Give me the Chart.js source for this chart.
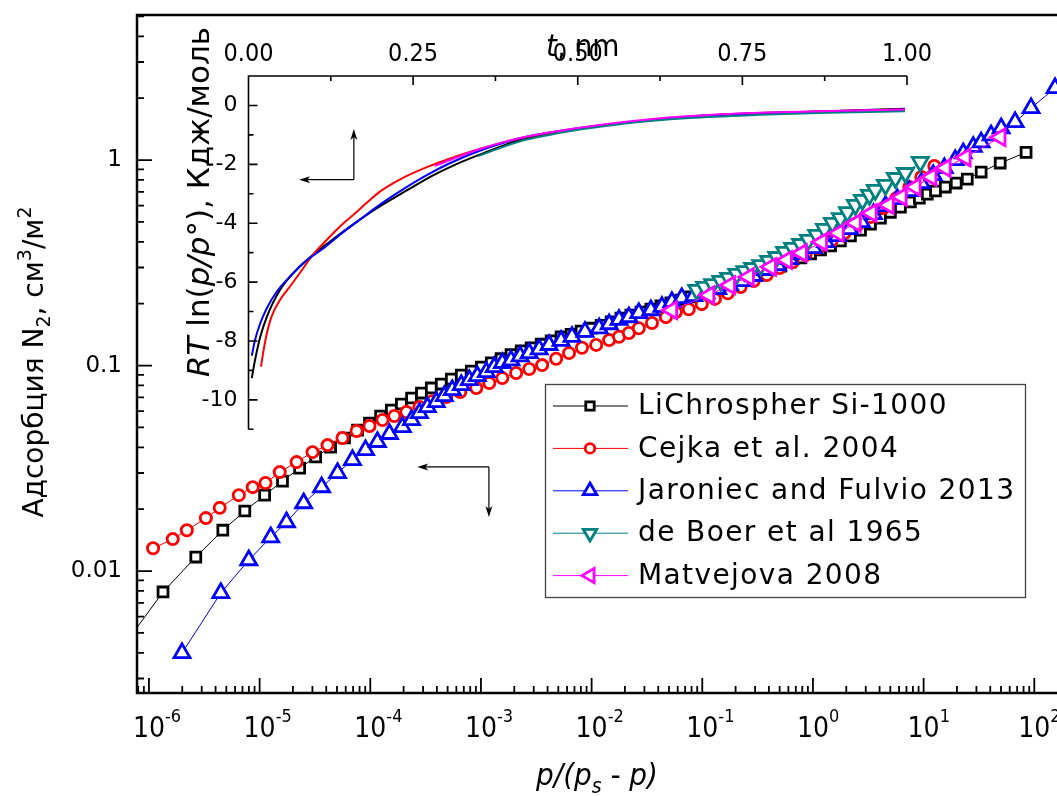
<!DOCTYPE html>
<html>
<head>
<meta charset="utf-8">
<script src="https://cdn.jsdelivr.net/npm/chart.js@4.4.0/dist/chart.umd.min.js"></script>
<style>
html, body { margin: 0; padding: 0; background: #fff; overflow: hidden; }
#wrap { position: relative; width: 1057px; height: 796px; overflow: hidden; }
#mainChart, #insetChart { position: absolute; left: 0; top: 0; }
</style>
</head>
<body>
<div id="wrap">
    <canvas id="mainChart" width="1080" height="796"></canvas>
    <canvas id="insetChart" width="1057" height="796"></canvas>
</div>
<script>
const SANS = '"DejaVu Sans", "Noto Sans", sans-serif'
const NARROW = '"DejaVu Sans Condensed", "Liberation Sans Narrow", "DejaVu Sans", sans-serif'

// Main plot: adsorption vs p/(ps - p)
const blackX = [6.74e-7, 1.34e-6, 2.65e-6, 4.65e-6, 7.35e-6, 1.11e-5, 1.61e-5, 2.30e-5, 3.21e-5, 4.38e-5, 5.85e-5, 7.67e-5, 9.84e-5, 1.24e-4, 1.55e-4, 1.91e-4, 2.36e-4, 2.90e-4, 3.56e-4, 4.38e-4, 5.40e-4, 6.64e-4, 8.18e-4, 1.01e-3, 1.24e-3, 1.52e-3, 1.87e-3, 2.31e-3, 2.84e-3, 3.50e-3, 4.31e-3, 5.30e-3, 6.52e-3, 8.02e-3, 9.88e-3, 1.22e-2, 1.50e-2, 1.84e-2, 2.26e-2, 2.79e-2, 3.43e-2, 4.23e-2, 5.20e-2, 6.40e-2, 7.87e-2, 9.69e-2, 0.119, 0.147, 0.181, 0.222, 0.274, 0.337, 0.415, 0.511, 0.628, 0.773, 0.951, 1.17, 1.44, 1.77, 2.18, 2.69, 3.31, 4.07, 5.01, 6.17, 7.59, 9.15, 10.8, 12.8, 15.7, 19.7, 24.8, 33.1, 49.2, 84.3]
const blackY = [0.00477, 0.00791, 0.0117, 0.0158, 0.0196, 0.0234, 0.0274, 0.0317, 0.0359, 0.0401, 0.0444, 0.0485, 0.0525, 0.0568, 0.0607, 0.0650, 0.0695, 0.0735, 0.0778, 0.0813, 0.0859, 0.0899, 0.0940, 0.0984, 0.103, 0.108, 0.113, 0.118, 0.122, 0.127, 0.132, 0.138, 0.142, 0.147, 0.152, 0.157, 0.163, 0.170, 0.176, 0.182, 0.188, 0.195, 0.202, 0.208, 0.216, 0.223, 0.233, 0.241, 0.252, 0.261, 0.273, 0.282, 0.295, 0.305, 0.319, 0.334, 0.349, 0.365, 0.382, 0.404, 0.427, 0.456, 0.488, 0.521, 0.557, 0.590, 0.625, 0.653, 0.683, 0.707, 0.739, 0.773, 0.808, 0.874, 0.967, 1.09]

const redX = [1.09e-6, 1.64e-6, 2.20e-6, 3.27e-6, 4.36e-6, 6.49e-6, 8.67e-6, 1.13e-5, 1.52e-5, 2.16e-5, 3.01e-5, 4.11e-5, 5.61e-5, 7.52e-5, 9.84e-5, 1.29e-4, 1.65e-4, 2.12e-4, 2.78e-4, 3.64e-4, 4.86e-4, 6.50e-4, 9.08e-4, 1.19e-3, 1.56e-3, 2.08e-3, 2.73e-3, 3.57e-3, 4.78e-3, 6.25e-3, 8.18e-3, 1.10e-2, 1.44e-2, 1.77e-2, 2.17e-2, 2.67e-2, 3.51e-2, 4.69e-2, 5.77e-2, 7.55e-2, 9.89e-2, 0.130, 0.170, 0.222, 0.291, 0.382, 0.500, 0.655, 0.857, 1.12, 1.47, 1.93, 2.52, 3.31, 4.34, 5.68, 7.43, 9.53, 12.5]
const redY = [0.0129, 0.0143, 0.0158, 0.0181, 0.0203, 0.0234, 0.0256, 0.0268, 0.0303, 0.0339, 0.0379, 0.0410, 0.0444, 0.0480, 0.0508, 0.0543, 0.0568, 0.0594, 0.0628, 0.0671, 0.0703, 0.0743, 0.0778, 0.0822, 0.0869, 0.0920, 0.0962, 0.1005, 0.108, 0.115, 0.122, 0.126, 0.133, 0.138, 0.144, 0.152, 0.161, 0.172, 0.182, 0.188, 0.199, 0.211, 0.225, 0.241, 0.258, 0.276, 0.298, 0.319, 0.345, 0.373, 0.404, 0.441, 0.483, 0.528, 0.584, 0.653, 0.739, 0.827, 0.935]

const blueX = [1.99e-6, 4.46e-6, 7.98e-6, 1.26e-5, 1.75e-5, 2.50e-5, 3.63e-5, 5.06e-5, 6.90e-5, 9.06e-5, 1.16e-4, 1.49e-4, 1.95e-4, 2.36e-4, 2.78e-4, 3.28e-4, 3.95e-4, 4.67e-4, 5.51e-4, 6.64e-4, 7.85e-4, 9.27e-4, 1.12e-3, 1.32e-3, 1.56e-3, 1.87e-3, 2.26e-3, 2.73e-3, 3.36e-3, 4.13e-3, 5.30e-3, 6.65e-3, 8.71e-3, 1.17e-2, 1.44e-2, 1.77e-2, 2.17e-2, 2.67e-2, 3.43e-2, 4.32e-2, 5.31e-2, 6.53e-2, 8.37e-2, 0.108, 0.138, 0.177, 0.227, 0.291, 0.374, 0.480, 0.615, 0.789, 1.01, 1.30, 1.67, 2.14, 2.74, 3.52, 4.52, 5.79, 7.43, 9.53, 12.2, 15.4, 19.3, 22.8, 28.1, 33.1, 40.7, 50.2, 67.1, 93.5, 154, 275]
const blueY = [0.00399, 0.00782, 0.0113, 0.0146, 0.0173, 0.0214, 0.0256, 0.0300, 0.0347, 0.0388, 0.0425, 0.0465, 0.0502, 0.0543, 0.0588, 0.0628, 0.0665, 0.0711, 0.0760, 0.0804, 0.0850, 0.0889, 0.0930, 0.0984, 0.103, 0.106, 0.111, 0.115, 0.120, 0.126, 0.132, 0.138, 0.146, 0.152, 0.159, 0.167, 0.172, 0.180, 0.186, 0.193, 0.204, 0.213, 0.218, 0.225, 0.236, 0.246, 0.258, 0.273, 0.292, 0.308, 0.330, 0.349, 0.373, 0.399, 0.427, 0.462, 0.499, 0.546, 0.598, 0.646, 0.707, 0.773, 0.845, 0.914, 1.00, 1.08, 1.16, 1.22, 1.32, 1.43, 1.53, 1.79, 2.24, 2.80]

const tealX = [8.91e-2, 0.105, 0.124, 0.147, 0.173, 0.205, 0.242, 0.285, 0.337, 0.398, 0.470, 0.555, 0.655, 0.773, 0.912, 1.08, 1.27, 1.50, 1.77, 2.05, 2.42, 2.80, 3.24, 3.66, 4.52, 5.56, 6.84, 9.33]
const tealY = [0.233, 0.241, 0.249, 0.258, 0.267, 0.279, 0.288, 0.298, 0.308, 0.323, 0.337, 0.357, 0.373, 0.390, 0.408, 0.432, 0.462, 0.494, 0.521, 0.557, 0.604, 0.639, 0.676, 0.715, 0.756, 0.817, 0.864, 0.978]

const magentaX = [5.31e-2, 0.115, 0.177, 0.262, 0.415, 0.578, 0.789, 1.20, 1.70, 2.42, 3.37, 4.81, 6.29, 8.41, 11.7, 15.7, 23.8, 49.2]
const magentaY = [0.186, 0.220, 0.246, 0.270, 0.302, 0.326, 0.353, 0.399, 0.441, 0.494, 0.552, 0.604, 0.661, 0.739, 0.827, 0.914, 1.03, 1.29]

// Inset: RT ln(p/p0) vs t
const insetBlackT = [0.005, 0.010, 0.018, 0.028, 0.048, 0.073, 0.098, 0.124, 0.149, 0.174, 0.200, 0.241, 0.278, 0.315, 0.357, 0.409, 0.487, 0.566, 0.670, 0.775, 0.880, 0.997]
const insetBlackE = [-9.26, -8.64, -7.85, -7.17, -6.26, -5.58, -5.07, -4.62, -4.20, -3.80, -3.42, -2.88, -2.40, -2.00, -1.62, -1.20, -0.84, -0.60, -0.38, -0.26, -0.20, -0.11]
const insetRedT = [0.019, 0.023, 0.028, 0.035, 0.048, 0.063, 0.078, 0.098, 0.119, 0.139, 0.159, 0.180, 0.200, 0.231, 0.268, 0.304, 0.325, 0.367, 0.412, 0.488, 0.566, 0.670, 0.775, 0.880, 0.997]
const insetRedE = [-8.87, -8.30, -7.73, -7.17, -6.60, -6.15, -5.69, -5.07, -4.56, -4.11, -3.72, -3.30, -2.92, -2.50, -2.12, -1.82, -1.66, -1.38, -1.12, -0.83, -0.60, -0.38, -0.27, -0.20, -0.14]
const insetBlueT = [0.005, 0.010, 0.018, 0.028, 0.043, 0.063, 0.088, 0.114, 0.139, 0.169, 0.200, 0.231, 0.268, 0.304, 0.346, 0.409, 0.487, 0.566, 0.670, 0.775, 0.880, 0.997]
const insetBlueE = [-8.50, -7.96, -7.39, -6.88, -6.32, -5.81, -5.27, -4.85, -4.39, -3.88, -3.36, -2.90, -2.40, -1.98, -1.58, -1.13, -0.82, -0.60, -0.38, -0.27, -0.21, -0.14]
const insetTealT = [0.349, 0.409, 0.487, 0.566, 0.670, 0.775, 0.880, 0.997]
const insetTealE = [-1.72, -1.24, -0.88, -0.63, -0.43, -0.32, -0.245, -0.20]
const insetMagentaT = [0.283, 0.346, 0.409, 0.487, 0.566, 0.670, 0.775, 0.880, 0.997]
const insetMagentaE = [-2.05, -1.52, -1.12, -0.81, -0.57, -0.36, -0.245, -0.19, -0.14]

const seriesNames = ['LiChrospher Si-1000', 'Cejka et al. 2004', 'Jaroniec and Fulvio 2013', 'de Boer et al 1965', 'Matvejova 2008']
const seriesColors = ['#000000', '#ff0000', '#0000ff', '#008080', '#ff00ff']

// Tick labels
const xDecades = [-6, -5, -4, -3, -2, -1, 0, 1, 2]
const yTickValues = [0.01, 0.1, 1]
const yTickLabels = ['0.01', '0.1', '1']
const insetXTicks = [0, 0.25, 0.5, 0.75, 1]
const insetXLabels = ['0.00', '0.25', '0.50', '0.75', '1.00']
const insetYTicks = [0, -2, -4, -6, -8, -10]

// Arrows (data coordinates of their own axes)
const mainArrow = { x: 1.18e-3, y: 0.0321, toX: 2.66e-4, toY: 0.0183 }
const insetArrow = { x: 0.160, y: -2.52, toX: 0.077, toY: -0.80 }

// Helpers for mixed-font text
const piecesWidth = (ctx, pieces) => pieces.reduce((w, p) => {
    ctx.font = p.font
    return w + ctx.measureText(p.text).width
}, 0)

const drawPieces = (ctx, pieces, x, y) => {
    for (const p of pieces) {
        ctx.font = p.font
        ctx.fillText(p.text, x, y + (p.dy || 0))
        x += ctx.measureText(p.text).width
    }
}

const drawArrow = (ctx, x1, y1, x2, y2) => {
    const c = Math.cos(Math.atan2(y2 - y1, x2 - x1))
    const s = Math.sin(Math.atan2(y2 - y1, x2 - x1))
    ctx.beginPath()
    ctx.moveTo(x1, y1)
    ctx.lineTo(x2 - 6 * c, y2 - 6 * s)
    ctx.stroke()
    ctx.beginPath()
    ctx.moveTo(x2, y2)
    ctx.lineTo(x2 - 11 * c + 3.5 * s, y2 - 11 * s - 3.5 * c)
    ctx.lineTo(x2 - 8 * c, y2 - 8 * s)
    ctx.lineTo(x2 - 11 * c - 3.5 * s, y2 - 11 * s + 3.5 * c)
    ctx.closePath()
    ctx.fill()
}

const makeSet = (i, xs, ys, style, rotation, radius) => ({
    label: seriesNames[i],
    data: xs.map((v, k) => ({ x: v, y: ys[k] })),
    showLine: true,
    borderColor: seriesColors[i],
    borderWidth: 1,
    pointStyle: style,
    pointRotation: rotation,
    pointRadius: radius,
    pointBorderWidth: 2.8,
    pointBorderColor: seriesColors[i],
    pointBackgroundColor: '#ffffff',
    order: 5 - i
})

// Axes, ticks, titles, legend and arrow of the main plot
const mainDecor = {
    id: 'mainDecor',
    afterDraw(chart) {
        const { ctx, chartArea: a, scales: { x, y } } = chart
        ctx.save()
        ctx.strokeStyle = '#000'
        ctx.fillStyle = '#000'
        ctx.lineWidth = 2.5
        ctx.strokeRect(a.left, a.top, a.right - a.left, a.bottom - a.top)

        // inward ticks
        ctx.lineWidth = 1.8
        ctx.beginPath()
        for (let k = -7; k <= 2; k++) {
            for (let m = 1; m <= 9; m++) {
                const v = m * Math.pow(10, k)
                if (v < x.min || v > x.max) continue
                const px = x.getPixelForValue(v)
                ctx.moveTo(px, a.bottom)
                ctx.lineTo(px, a.bottom - (m === 1 ? 15 : 7))
            }
        }
        for (let k = -3; k <= 0; k++) {
            for (let m = 1; m <= 9; m++) {
                const v = m * Math.pow(10, k)
                if (v < y.min || v > y.max) continue
                const py = y.getPixelForValue(v)
                ctx.moveTo(a.left, py)
                ctx.lineTo(a.left + (m === 1 ? 15 : 7), py)
            }
        }
        ctx.stroke()

        // x tick labels 10^n
        ctx.textBaseline = 'alphabetic'
        ctx.textAlign = 'left'
        for (const e of xDecades) {
            const px = x.getPixelForValue(Math.pow(10, e))
            ctx.font = `28px ${NARROW}`
            const w10 = ctx.measureText('10').width
            ctx.fillText('10', px - w10 / 2, 737)
            ctx.font = `18px ${NARROW}`
            ctx.fillText(String(e), px + w10 / 2, 722)
        }

        // y tick labels
        ctx.font = `23px ${SANS}`
        ctx.textAlign = 'right'
        ctx.textBaseline = 'middle'
        yTickValues.forEach((v, i) => {
            ctx.fillText(yTickLabels[i], a.left - 15, y.getPixelForValue(v))
        })

        // x title
        ctx.textAlign = 'left'
        ctx.textBaseline = 'alphabetic'
        const xt = [
            { text: 'p/(p', font: `italic 31px ${NARROW}` },
            { text: 's', font: `italic 21px ${NARROW}`, dy: 8 },
            { text: ' - p)', font: `italic 31px ${NARROW}` }
        ]
        drawPieces(ctx, xt, 597 - piecesWidth(ctx, xt) / 2, 785)

        // y title
        const yt = [
            { text: 'Адсорбция N', font: `28px ${SANS}` },
            { text: '2', font: `19px ${SANS}`, dy: 7 },
            { text: ', см', font: `28px ${SANS}` },
            { text: '3', font: `19px ${SANS}`, dy: -12 },
            { text: '/м', font: `28px ${SANS}` },
            { text: '2', font: `19px ${SANS}`, dy: -12 }
        ]
        ctx.save()
        ctx.translate(43, 362)
        ctx.rotate(-Math.PI / 2)
        drawPieces(ctx, yt, -piecesWidth(ctx, yt) / 2, 0)
        ctx.restore()

        // arrow pointing to the main axes
        ctx.lineWidth = 1.2
        const ax = x.getPixelForValue(mainArrow.x)
        const ay = y.getPixelForValue(mainArrow.y)
        drawArrow(ctx, ax, ay, x.getPixelForValue(mainArrow.toX), ay)
        drawArrow(ctx, ax, ay, ax, y.getPixelForValue(mainArrow.toY))

        // legend
        ctx.fillStyle = '#fff'
        ctx.fillRect(545, 384, 480, 213)
        ctx.strokeStyle = '#444'
        ctx.lineWidth = 1.3
        ctx.strokeRect(545.5, 384.5, 480, 213)
        chart.data.datasets.forEach((ds, i) => {
            const ly = 406 + i * 42.4
            ctx.strokeStyle = ds.borderColor
            ctx.lineWidth = 1
            ctx.beginPath()
            ctx.moveTo(553, ly)
            ctx.lineTo(628, ly)
            ctx.stroke()
            ctx.fillStyle = '#fff'
            ctx.lineWidth = ds.pointBorderWidth
            Chart.helpers.drawPoint(ctx, {
                pointStyle: ds.pointStyle,
                rotation: ds.pointRotation,
                radius: ds.pointRadius * 0.85,
                borderWidth: ds.pointBorderWidth
            }, 590, ly)
            ctx.fillStyle = '#000'
            ctx.font = `28px ${SANS}`
            ctx.textAlign = 'left'
            ctx.textBaseline = 'middle'
            ctx.letterSpacing = '1.4px'
            ctx.fillText(ds.label, 638, ly + 1)
            ctx.letterSpacing = '0px'
        })
        ctx.restore()
    }
}

// Axes, ticks and titles of the inset
const insetDecor = {
    id: 'insetDecor',
    afterDraw(chart) {
        const { ctx, chartArea: a, scales: { x, y } } = chart
        ctx.save()
        ctx.strokeStyle = '#000'
        ctx.fillStyle = '#000'
        ctx.lineWidth = 1.6
        ctx.beginPath()
        ctx.moveTo(a.right, a.top)
        ctx.lineTo(a.left, a.top)
        ctx.lineTo(a.left, a.bottom)
        for (let i = 0; i <= 8; i++) {
            const px = x.getPixelForValue(i / 8)
            ctx.moveTo(px, a.top)
            ctx.lineTo(px, a.top + (i % 2 === 0 ? 9 : 5))
        }
        for (let v = -11; v <= 1; v++) {
            const py = y.getPixelForValue(v)
            ctx.moveTo(a.left, py)
            ctx.lineTo(a.left + (v % 2 === 0 ? 9 : 5), py)
        }
        ctx.stroke()

        // top labels
        ctx.font = `25px ${NARROW}`
        ctx.textAlign = 'center'
        ctx.textBaseline = 'alphabetic'
        insetXTicks.forEach((v, i) => ctx.fillText(insetXLabels[i], x.getPixelForValue(v), 61))

        // left labels
        ctx.font = `22px ${SANS}`
        ctx.textAlign = 'right'
        ctx.textBaseline = 'middle'
        insetYTicks.forEach(v => ctx.fillText(String(v), a.left - 11, y.getPixelForValue(v)))

        // titles
        ctx.textAlign = 'left'
        ctx.textBaseline = 'alphabetic'
        const tt = [
            { text: 't', font: `italic 31px ${NARROW}` },
            { text: ', nm', font: `31px ${NARROW}` }
        ]
        drawPieces(ctx, tt, x.getPixelForValue(0.5) + 5 - piecesWidth(ctx, tt) / 2, 56)

        const et = [
            { text: 'RT', font: `italic 31px ${SANS}` },
            { text: ' ln(', font: `31px ${SANS}` },
            { text: 'p/p', font: `italic 31px ${SANS}` },
            { text: '°), Кдж/моль', font: `31px ${SANS}` }
        ]
        ctx.save()
        ctx.translate(209, 202)
        ctx.rotate(-Math.PI / 2)
        drawPieces(ctx, et, -piecesWidth(ctx, et) / 2, 0)
        ctx.restore()

        // arrow pointing to the inset axes
        ctx.lineWidth = 1.2
        const ax = x.getPixelForValue(insetArrow.x)
        const ay = y.getPixelForValue(insetArrow.y)
        drawArrow(ctx, ax, ay, x.getPixelForValue(insetArrow.toX), ay)
        drawArrow(ctx, ax, ay, ax, y.getPixelForValue(insetArrow.toY))
        ctx.restore()
    }
}

const mainChart = new Chart(document.getElementById('mainChart'), {
    type: 'scatter',
    data: {
        datasets: [
            makeSet(0, blackX, blackY, 'rect', 0, 7),
            makeSet(1, redX, redY, 'circle', 0, 5.6),
            makeSet(2, blueX, blueY, 'triangle', 0, 9.2),
            makeSet(3, tealX, tealY, 'triangle', 180, 9.2),
            makeSet(4, magentaX, magentaY, 'triangle', -90, 9.6)
        ]
    },
    options: {
        responsive: false,
        animation: false,
        devicePixelRatio: 1,
        events: [],
        layout: { padding: { left: 137, top: 15, right: 10, bottom: 103 } },
        plugins: { legend: { display: false }, tooltip: { enabled: false } },
        scales: {
            x: { type: 'logarithmic', min: 7.8e-7, max: 200, bounds: 'data', display: false },
            y: { type: 'logarithmic', min: 0.00255, max: 5.08, bounds: 'data', display: false }
        }
    },
    plugins: [mainDecor]
})

const insetSet = (i, ts, es) => ({
    label: seriesNames[i],
    data: ts.map((v, k) => ({ x: v, y: es[k] })),
    showLine: true,
    borderColor: seriesColors[i],
    borderWidth: 2,
    pointRadius: 0,
    cubicInterpolationMode: 'monotone',
    order: 5 - i
})

const insetChart = new Chart(document.getElementById('insetChart'), {
    type: 'scatter',
    data: {
        datasets: [
            insetSet(0, insetBlackT, insetBlackE),
            insetSet(1, insetRedT, insetRedE),
            insetSet(2, insetBlueT, insetBlueE),
            insetSet(3, insetTealT, insetTealE),
            insetSet(4, insetMagentaT, insetMagentaE)
        ]
    },
    options: {
        responsive: false,
        animation: false,
        devicePixelRatio: 1,
        events: [],
        layout: { padding: { left: 248.5, top: 76, right: 150, bottom: 366.7 } },
        plugins: { legend: { display: false }, tooltip: { enabled: false } },
        scales: {
            x: { type: 'linear', min: 0, max: 1, bounds: 'data', display: false },
            y: { type: 'linear', min: -11, max: 1, bounds: 'data', display: false }
        }
    },
    plugins: [insetDecor]
})
</script>
</body>
</html>
